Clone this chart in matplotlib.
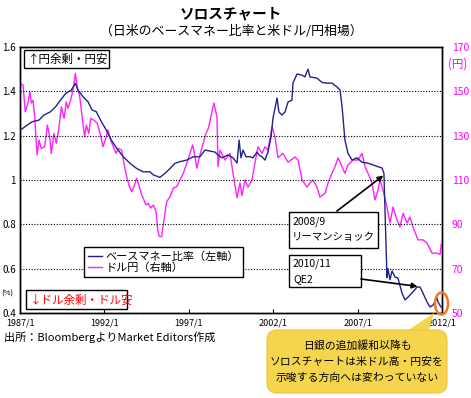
import matplotlib
matplotlib.use("Agg")
import matplotlib.pyplot as plt
from matplotlib.patches import Rectangle, FancyBboxPatch, Ellipse, Polygon

plt.rcParams['font.family'] = ['Noto Sans CJK JP', 'DejaVu Sans']

# ---- data ----
base_years = [1987.04, 1987.43, 1987.73, 1988.12, 1988.42, 1988.81, 1989.10, 1989.40, 1989.70,
              1990.04, 1990.28, 1990.43, 1990.73, 1991.03, 1991.27, 1991.52, 1991.82, 1992.11,
              1992.41, 1992.73, 1993.12, 1993.52, 1993.91, 1994.30, 1994.70, 1994.90, 1995.29,
              1995.59, 1995.89, 1996.18, 1996.48, 1996.88, 1997.27, 1997.66, 1997.96, 1998.55,
              1998.73, 1998.97, 1999.32, 1999.62, 1999.86, 1999.98, 2000.09, 2000.21, 2000.39,
              2000.63, 2000.80, 2001.04, 2001.16, 2001.34, 2001.51, 2001.69, 2001.87, 2001.99,
              2002.23, 2002.34, 2002.52, 2002.70, 2002.88, 2003.11, 2003.17, 2003.41, 2003.71,
              2003.88, 2004.06, 2004.18, 2004.59, 2004.89, 2005.19, 2005.48, 2005.78, 2005.96,
              2006.08, 2006.25, 2006.43, 2006.67, 2006.96, 2007.26, 2007.56, 2007.85, 2008.21,
              2008.45, 2008.56, 2008.74, 2008.80, 2008.92, 2009.04, 2009.22, 2009.39, 2009.63,
              2009.81, 2009.99, 2010.22, 2010.52, 2010.70, 2010.87, 2011.11, 2011.29, 2011.47,
              2011.70, 2011.76, 2011.94]
base_ratio = [1.226, 1.248, 1.263, 1.270, 1.293, 1.308, 1.330, 1.360, 1.390,
              1.406, 1.436, 1.406, 1.376, 1.353, 1.316, 1.308, 1.263, 1.226,
              1.180, 1.143, 1.105, 1.075, 1.052, 1.037, 1.037, 1.023, 1.012,
              1.030, 1.052, 1.075, 1.083, 1.090, 1.105, 1.105, 1.135, 1.126,
              1.113, 1.100, 1.113, 1.100, 1.077, 1.180, 1.100, 1.135, 1.105,
              1.105, 1.100, 1.126, 1.113, 1.105, 1.090, 1.126, 1.194, 1.280,
              1.370, 1.307, 1.293, 1.307, 1.352, 1.360, 1.437, 1.478, 1.473,
              1.465, 1.500, 1.465, 1.460, 1.440, 1.437, 1.437, 1.420, 1.406,
              1.330, 1.180, 1.120, 1.090, 1.100, 1.080, 1.077, 1.070, 1.060,
              1.054, 1.030, 0.560, 0.600, 0.550, 0.590, 0.562, 0.558, 0.490,
              0.459, 0.472, 0.490, 0.517, 0.517, 0.490, 0.450, 0.427, 0.436,
              0.468, 0.450, 0.427]

fx_years = [1987.04, 1987.18, 1987.31, 1987.47, 1987.59, 1987.67, 1987.77, 1987.87, 1988.01,
            1988.13, 1988.26, 1988.46, 1988.62, 1988.76, 1988.85, 1989.01, 1989.15, 1989.29,
            1989.45, 1989.61, 1989.74, 1989.84, 1990.00, 1990.14, 1990.28, 1990.39, 1990.54,
            1990.69, 1990.83, 1990.93, 1991.07, 1991.19, 1991.38, 1991.58, 1991.72, 1991.92,
            1992.05, 1992.21, 1992.37, 1992.53, 1992.69, 1992.82, 1993.02, 1993.16, 1993.32,
            1993.48, 1993.62, 1993.75, 1993.91, 1994.07, 1994.21, 1994.30, 1994.46, 1994.60,
            1994.74, 1994.90, 1995.06, 1995.16, 1995.25, 1995.39, 1995.53, 1995.69, 1995.89,
            1996.08, 1996.28, 1996.48, 1996.67, 1996.88, 1997.07, 1997.23, 1997.37, 1997.47,
            1997.66, 1997.86, 1998.02, 1998.16, 1998.26, 1998.49, 1998.67, 1998.73, 1998.85,
            1999.14, 1999.44, 1999.62, 1999.86, 2000.03, 2000.15, 2000.33, 2000.51, 2000.74,
            2000.92, 2001.10, 2001.34, 2001.51, 2001.69, 2001.93, 2002.11, 2002.28, 2002.58,
            2002.88, 2003.29, 2003.47, 2003.71, 2004.00, 2004.18, 2004.36, 2004.59, 2004.77,
            2005.07, 2005.25, 2005.48, 2005.66, 2005.84, 2006.08, 2006.25, 2006.43, 2006.73,
            2007.02, 2007.26, 2007.44, 2007.62, 2007.85, 2008.03, 2008.21, 2008.33, 2008.50,
            2008.74, 2008.92, 2009.10, 2009.33, 2009.51, 2009.69, 2009.93, 2010.10, 2010.28,
            2010.58, 2010.87, 2011.11, 2011.41, 2011.70, 2011.88, 2011.95]
usdjpy = [153.3, 152.9, 140.8, 144.7, 149.8, 144.7, 146.0, 138.6, 121.3,
          128.0, 124.3, 125.0, 134.8, 129.5, 122.0, 131.0, 126.6, 132.6,
          143.0, 137.8, 145.3, 142.3, 146.0, 150.6, 158.1, 152.0, 147.6,
          137.8, 129.5, 134.8, 131.0, 137.8, 137.0, 135.6, 131.8, 125.0,
          128.0, 132.6, 128.0, 125.0, 122.0, 124.3, 123.5, 117.5, 111.5,
          107.0, 104.7, 107.0, 110.8, 107.0, 103.2, 101.8, 98.7, 99.5,
          97.3, 98.7, 95.7, 87.5, 84.5, 84.5, 92.0, 100.2, 102.5,
          106.3, 107.0, 110.0, 113.0, 117.5, 122.0, 125.8, 120.5, 115.3,
          121.3, 126.6, 131.0, 133.3, 137.0, 144.7, 138.4, 116.0, 123.5,
          119.0, 122.0, 113.0, 102.0, 108.7, 103.0, 110.0, 106.8, 110.0,
          117.7, 125.0, 122.0, 125.0, 123.5, 134.0, 129.4, 120.0, 122.0,
          118.0, 120.4, 119.0, 110.0, 106.8, 108.7, 110.0, 106.8, 102.3,
          104.0, 108.7, 113.0, 116.0, 120.0, 116.0, 113.0, 116.8, 119.0,
          119.0, 122.0, 116.0, 113.0, 108.7, 101.0, 105.5, 110.0, 105.5,
          97.8, 90.6, 97.8, 92.0, 88.8, 95.0, 90.6, 93.3, 88.8,
          83.0, 83.0, 81.6, 77.0, 77.0, 76.4, 80.8]

x_ticks = [1987, 1992, 1997, 2002, 2007, 2012]
x_labels = ['1987/1', '1992/1', '1997/1', '2002/1', '2007/1', '2012/1']
left_ticks = [0.4, 0.6, 0.8, 1.0, 1.2, 1.4, 1.6]
left_labels = ['0.4', '0.6', '0.8', '1', '1.2', '1.4', '1.6']
right_ticks = [50, 70, 90, 110, 130, 150, 170]
grid_levels = [0.6, 0.8, 1.0, 1.2, 1.4]

NAVY = '#22228C'
MAG = '#FF22FF'
W, H = 471, 398

fig = plt.figure(figsize=(W / 100, H / 100), dpi=100)
ax = fig.add_axes([20 / W, 1 - 313 / H, 422 / W, 266 / H])
ax2 = ax.twinx()

ax.set_xlim(1987, 2012)
ax.set_ylim(0.4, 1.6)
ax2.set_ylim(50, 170)

for g in grid_levels:
    ax.axhline(g, color='black', lw=0.8, ls=(0, (1, 1.5)), zorder=1)

ax2.plot(fx_years, usdjpy, color=MAG, lw=1.0, label='ドル円（右軸）', zorder=2)
ln1, = ax.plot(base_years, base_ratio, color=NAVY, lw=1.0, label='ベースマネー比率（左軸）', zorder=3)
ax.set_zorder(ax2.get_zorder() + 1)
ax.patch.set_visible(False)

ax.set_xticks(x_ticks)
ax.set_xticklabels(x_labels, fontsize=6.5)
ax.tick_params(axis='x', direction='in', length=3, pad=4)
ax.set_yticks(left_ticks)
ax.set_yticklabels(left_labels, fontsize=7)
ax.tick_params(axis='y', length=0, pad=3)
ax2.set_yticks(right_ticks)
ax2.set_yticklabels([str(v) for v in right_ticks], fontsize=7.5, color='#FF00FF')
ax2.tick_params(axis='y', length=0, pad=7)
for a in (ax, ax2):
    for s in a.spines.values():
        s.set_color('black')
        s.set_linewidth(1.0)

# legend
h2 = ax2.get_lines()[0]
leg = ax.legend([ln1, h2], ['ベースマネー比率（左軸）', 'ドル円（右軸）'],
                loc='upper left', bbox_to_anchor=(84 / W, 1 - 247 / H),
                bbox_transform=fig.transFigure, fontsize=8, frameon=True,
                fancybox=False, edgecolor='black', framealpha=1,
                handlelength=1.3, handletextpad=0.3, borderpad=0.35,
                labelspacing=0.1, borderaxespad=0)
leg.get_frame().set_linewidth(1.0)
for t, c in zip(leg.get_texts(), ['black', 'black']):
    t.set_color(c)

# overlay in pixel coordinates for annotations
ov = fig.add_axes([0, 0, 1, 1], zorder=10)
ov.set_xlim(0, W)
ov.set_ylim(H, 0)
ov.axis('off')
ov.patch.set_visible(False)

ov.text(231, 13, 'ソロスチャート', ha='center', va='center', fontsize=10.5, fontweight='bold')
ov.text(231, 31, '（日米のベースマネー比率と米ドル/円相場）', ha='center', va='center', fontsize=9.3)

ov.add_patch(Rectangle((24, 50), 85, 18, fill=True, facecolor='white', edgecolor='black', lw=1))
ov.text(28, 59.5, '↑円余剰・円安', ha='left', va='center', fontsize=8.3)
ov.add_patch(Rectangle((26, 290), 101, 19, fill=True, facecolor='white', edgecolor='black', lw=1))
ov.text(30, 300, '↓ドル余剰・ドル安', ha='left', va='center', fontsize=8.3, color='#FF0000')

ov.text(7, 294, '(%)', ha='center', va='center', fontsize=5.5)
ov.text(458, 64, '(円)', ha='center', va='center', fontsize=8.3, color='#FF00FF')
ov.text(4, 337, '出所：BloombergよりMarket Editors作成', ha='left', va='center', fontsize=8)

# Lehman box + arrow
ov.add_patch(Rectangle((289, 212), 89, 36, facecolor='white', edgecolor='black', lw=1))
ov.text(293, 222, '2008/9', ha='left', va='center', fontsize=7.5)
ov.text(292, 237, 'リーマンショック', ha='left', va='center', fontsize=7.5)
ov.annotate('', xy=(2008.52, 1.02), xycoords=ax.transData, xytext=(337, 211), textcoords='data',
            arrowprops=dict(arrowstyle='-|>', color='black', lw=1.2, mutation_scale=8,
                            shrinkA=0, shrinkB=0))

# QE2 box + arrow
ov.add_patch(Rectangle((289, 255), 72, 32, facecolor='white', edgecolor='black', lw=1))
ov.text(293, 264, '2010/11', ha='left', va='center', fontsize=7.5)
ov.text(293, 279, 'QE2', ha='left', va='center', fontsize=7.5)
ov.annotate('', xy=(2010.55, 0.52), xycoords=ax.transData, xytext=(361, 279), textcoords='data',
            arrowprops=dict(arrowstyle='-|>', color='black', lw=1.2, mutation_scale=8,
                            shrinkA=0, shrinkB=0))

# orange ellipse
ov.add_patch(Ellipse((441.5, 303.5), 13, 22, fill=False, edgecolor='#F07820', lw=1.8))

# yellow callout
YEL = '#F5D44E'
ov.add_patch(Polygon([(404, 333), (428, 333), (434, 313)], closed=True,
                     facecolor=YEL, edgecolor='none'))
ov.add_patch(FancyBboxPatch((267, 330), 180, 63, boxstyle='round,pad=0,rounding_size=10',
                            facecolor=YEL, edgecolor='#EBC53C', lw=0.8))
ov.text(357, 345, '日銀の追加緩和以降も', ha='center', va='center', fontsize=7.8)
ov.text(357, 361.5, 'ソロスチャートは米ドル高・円安を', ha='center', va='center', fontsize=7.8)
ov.text(357, 378, '示唆する方向へは変わっていない', ha='center', va='center', fontsize=7.8)

fig.savefig('out.png', dpi=100)
